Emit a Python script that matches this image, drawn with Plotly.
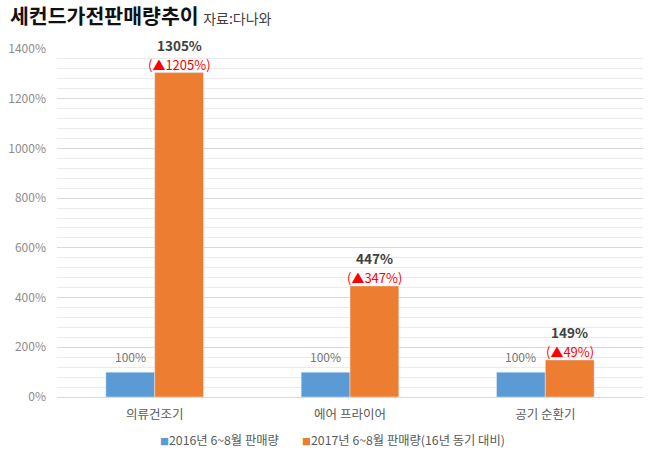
import plotly.graph_objects as go

categories = ["의류건조기", "에어 프라이어", "공기 순환기"]
sales_2016 = [100, 100, 100]
sales_2017 = [1305, 447, 149]
increase = [1205, 347, 49]
series_names = ["2016년 6~8월 판매량", "2017년 6~8월 판매량(16년 동기 대비)"]
tick_vals = [0, 200, 400, 600, 800, 1000, 1200, 1400]
tick_text = [f"{v}%" for v in tick_vals]

FONT = "Noto Sans CJK KR"
BLUE = "#5b9bd5"
ORANGE = "#ed7d31"

W, H = 659, 461
L, R, T, B = 57, 16, 49, 64
PW, PH = W - L - R, H - T - B

fig = go.Figure()
fig.add_trace(go.Bar(x=categories, y=sales_2016, name=series_names[0],
                     marker_color=BLUE, cliponaxis=False))
fig.add_trace(go.Bar(x=categories, y=sales_2017, name=series_names[1],
                     marker_color=ORANGE, cliponaxis=False))

for c, v in zip(categories, sales_2016):
    fig.add_annotation(x=c, y=v, xref="x", yref="y", xshift=-24.5, yshift=16,
                       text=f"{v}%", showarrow=False,
                       font=dict(size=12, color="#767676", family=FONT))

for c, v, inc in zip(categories, sales_2017, increase):
    fig.add_annotation(x=c, y=v, xref="x", yref="y", xshift=24.5, yshift=8,
                       text=f"(▲{inc}%)", showarrow=False,
                       font=dict(size=13, color="#ff0000", family=FONT))
    fig.add_annotation(x=c, y=v, xref="x", yref="y", xshift=24.5, yshift=28,
                       text=f"<b>{v}%</b>", showarrow=False,
                       font=dict(size=13.5, color="#404040", family=FONT))

# legend drawn as text with coloured squares
legend_items = [(series_names[0], BLUE, 158), (series_names[1], ORANGE, 300)]
for name, col, px in legend_items:
    fig.add_annotation(xref="paper", yref="paper", x=(px - L) / PW, y=-43 / PH,
                       xanchor="left", yanchor="middle", showarrow=False,
                       text=f"<span style='color:{col};font-size:9px'>■</span>{name}",
                       font=dict(size=12.3, color="#595959", family=FONT))

fig.update_layout(
    width=W, height=H,
    margin=dict(l=L, r=R, t=T, b=B, autoexpand=False),
    title=dict(text="<b>세컨드가전판매량추이</b> <span style='font-size:14px;color:#404040'>자료:다나와</span>",
               x=10 / W, xref="container", xanchor="left",
               y=1 - 17 / H, yref="container", yanchor="middle",
               font=dict(size=20.5, color="#111111", family=FONT)),
    paper_bgcolor="white", plot_bgcolor="white",
    barmode="group", bargap=0.5, bargroupgap=0,
    font=dict(family=FONT, size=11, color="#767676"),
    showlegend=False,
    xaxis=dict(showline=True, linecolor="#d9d9d9", linewidth=1, ticks="", automargin=False,
               ticklabelstandoff=6,
               tickfont=dict(size=12.5, color="#595959")),
    yaxis=dict(range=[0, 1400], tickvals=tick_vals, ticktext=tick_text, automargin=False,
               showgrid=True, gridcolor="#d9d9d9", gridwidth=1,
               zeroline=False, ticks="", ticklabelstandoff=10,
               tickfont=dict(size=12, color="#8c8c8c"),
               minor=dict(dtick=40, tick0=0, showgrid=True, gridcolor="#ebebeb", gridwidth=1)),
)

fig.write_html("out.html", config={"displayModeBar": False},
               post_script="document.body.style.margin='0';")
